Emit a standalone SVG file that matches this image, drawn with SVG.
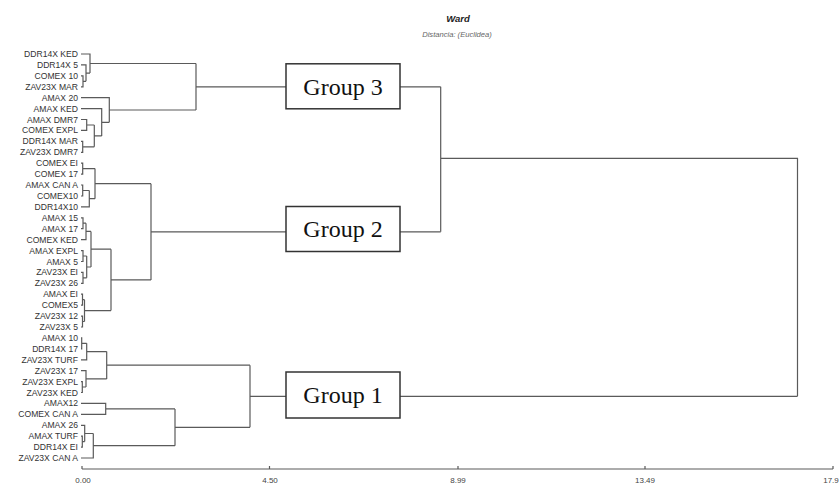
<svg xmlns="http://www.w3.org/2000/svg" width="840" height="485" viewBox="0 0 840 485">
<style>
.lbl{font-family:"Liberation Sans",Arial,sans-serif;font-size:8.6px;fill:#333;text-anchor:end}
.ax{font-family:"Liberation Sans",Arial,sans-serif;font-size:8px;fill:#444;text-anchor:middle}
.ln{fill:none;stroke:#5a5a5a;stroke-width:1.2}
.box{fill:#fff;stroke:#333;stroke-width:1.5}
.gt{font-family:"Liberation Serif","Times New Roman",serif;font-size:24px;fill:#111;text-anchor:middle}
</style>
<rect width="840" height="485" fill="#fff"/>
<text x="458" y="22" style="font-family:'Liberation Sans',Arial,sans-serif;font-size:9.5px;font-weight:bold;font-style:italic;fill:#222;text-anchor:middle">Ward</text>
<text x="457" y="37" style="font-family:'Liberation Sans',Arial,sans-serif;font-size:7.6px;font-style:italic;fill:#666;text-anchor:middle">Distancia: (Euclidea)</text>
<g id="leaves">
<text class="lbl" x="78" y="57">DDR14X KED</text>
<text class="lbl" x="78" y="67.9">DDR14X 5</text>
<text class="lbl" x="78" y="78.8">COMEX 10</text>
<text class="lbl" x="78" y="89.8">ZAV23X MAR</text>
<text class="lbl" x="78" y="100.7">AMAX 20</text>
<text class="lbl" x="78" y="111.6">AMAX KED</text>
<text class="lbl" x="78" y="122.5">AMAX DMR7</text>
<text class="lbl" x="78" y="133.4">COMEX EXPL</text>
<text class="lbl" x="78" y="144.4">DDR14X MAR</text>
<text class="lbl" x="78" y="155.3">ZAV23X DMR7</text>
<text class="lbl" x="78" y="166.2">COMEX EI</text>
<text class="lbl" x="78" y="177.1">COMEX 17</text>
<text class="lbl" x="78" y="188">AMAX CAN A</text>
<text class="lbl" x="78" y="199">COMEX10</text>
<text class="lbl" x="78" y="209.9">DDR14X10</text>
<text class="lbl" x="78" y="220.8">AMAX 15</text>
<text class="lbl" x="78" y="231.7">AMAX 17</text>
<text class="lbl" x="78" y="242.6">COMEX KED</text>
<text class="lbl" x="78" y="253.6">AMAX EXPL</text>
<text class="lbl" x="78" y="264.5">AMAX 5</text>
<text class="lbl" x="78" y="275.4">ZAV23X EI</text>
<text class="lbl" x="78" y="286.3">ZAV23X 26</text>
<text class="lbl" x="78" y="297.2">AMAX EI</text>
<text class="lbl" x="78" y="308.2">COMEX5</text>
<text class="lbl" x="78" y="319.1">ZAV23X 12</text>
<text class="lbl" x="78" y="330">ZAV23X 5</text>
<text class="lbl" x="78" y="340.9">AMAX 10</text>
<text class="lbl" x="78" y="351.8">DDR14X 17</text>
<text class="lbl" x="78" y="362.8">ZAV23X TURF</text>
<text class="lbl" x="78" y="373.7">ZAV23X 17</text>
<text class="lbl" x="78" y="384.6">ZAV23X EXPL</text>
<text class="lbl" x="78" y="395.5">ZAV23X KED</text>
<text class="lbl" x="78" y="406.4">AMAX12</text>
<text class="lbl" x="78" y="417.4">COMEX CAN A</text>
<text class="lbl" x="78" y="428.3">AMAX 26</text>
<text class="lbl" x="78" y="439.2">AMAX TURF</text>
<text class="lbl" x="78" y="450.1">DDR14X EI</text>
<text class="lbl" x="78" y="461">ZAV23X CAN A</text>
</g>
<g id="connectors">
<!-- Group 3 top -->
<path class="ln" d="M81 75.8H83V86.8H81M83 81.3H86M81 64.9H86V81.3M86 73.1H90M81 54H90V73.1M90 63.5H196"/>
<!-- Group 3 lower -->
<path class="ln" d="M81 119.5H86.7V130.4H81M81 141.4H82.7V152.3H81M86.7 125H94.3M82.7 146.8H94.3M94.3 125V146.8M94.3 135.9H101.7M81 108.6H101.7V135.9M101.7 122.3H109.3M81 97.7H109.3V122.3M109.3 110H196"/>
<path class="ln" d="M196 63.5V110M196 86.8H286M400 86.8H440.7M440.7 86.8V231.8M440.7 158.3H797.5V396.3"/>
<!-- Group 2 -->
<path class="ln" d="M81 163.2H82.7V174.1H81M82.7 168.6H95M81 185H82.7V196H81M82.7 190.5H89.3M81 206.9H89.3V190.5M89.3 198.7H95M95 168.6V198.7M95 183.7H151"/>
<path class="ln" d="M81 217.8H83V228.7H81M83 223.2H86M81 239.6H86V223.2M86 231.4H91M81 250.6H83V261.5H81M81 272.4H83V283.3H81M83 256H86.7M83 277.8H86.7M86.7 256V277.8M86.7 267H91M91 231.4V267M91 249.2H111"/>
<path class="ln" d="M81 294.2H82.5V305.2H81M81 316.1H82.5V327H81M82.5 299.7H84.5M82.5 321.5H84.5M84.5 299.7V321.5M84.5 310.6H111M111 249.2V310.6M111 279.9H151M151 183.7V279.9M151 231.8H286M400 231.8H440.7"/>
<!-- Group 1 -->
<path class="ln" d="M81 337.9H81.7V348.8H81M81.7 343.3H86.7M81 359.8H86.7V343.3M86.7 351.6H106.7M81 381.6H82.3V392.5H81M82.3 387H86M81 370.7H86V387M86 378.9H106.7M106.7 351.6V378.9M106.7 365.2H250"/>
<path class="ln" d="M81 403.4H105.7V414.4H81M105.7 408.9H175M81 436.2H82.3V447.1H81M82.3 441.6H84.7M81 425.3H84.7V441.6M84.7 433.5H93.3M81 458H93.3V433.5M93.3 445.7H175M175 408.9V445.7M175 427.3H250M250 365.2V427.3M250 396.3H286M400 396.3H797.5"/>
</g>
<g id="group3"><rect class="box" x="286" y="63.8" width="114" height="45"/><text class="gt" x="343" y="94.5">Group 3</text></g>
<g id="group2"><rect class="box" x="286" y="206.5" width="114" height="45"/><text class="gt" x="343" y="237.2">Group 2</text></g>
<g id="group1"><rect class="box" x="286" y="372" width="114" height="46"/><text class="gt" x="343" y="403.2">Group 1</text></g>
<g id="axis">
<path class="ln" d="M82 469H833M82 466V469M269.5 466V469M458 466V469M645 466V469M833 466V469"/>
<text class="ax" x="83" y="483">0.00</text>
<text class="ax" x="270" y="483">4.50</text>
<text class="ax" x="458" y="483">8.99</text>
<text class="ax" x="645" y="483">13.49</text>
<text class="ax" x="831" y="483">17.9</text>
</g>
</svg>
